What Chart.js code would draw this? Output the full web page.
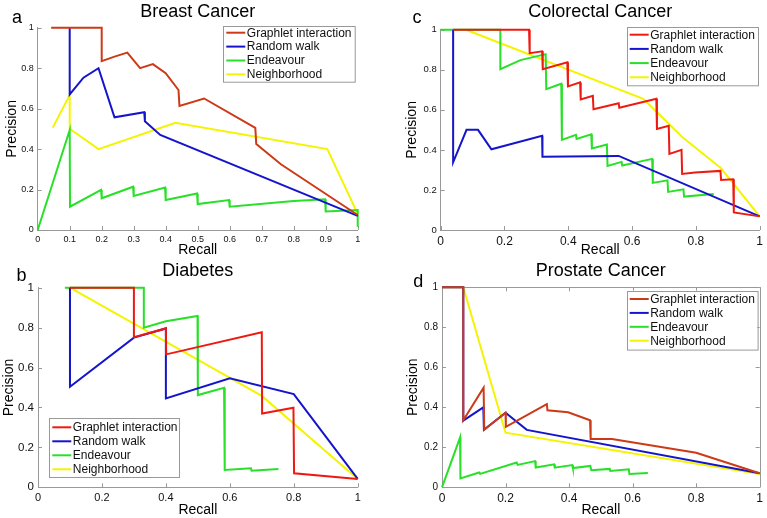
<!DOCTYPE html>
<html>
<head>
<meta charset="utf-8">
<script src="https://cdn.jsdelivr.net/npm/chart.js@4.4.0/dist/chart.umd.min.js"></script>
<style>
  body { margin: 0; background: #fff; }
  #wrap { position: relative; width: 767px; height: 518px; overflow: hidden; }
  canvas { position: absolute; }
</style>
</head>
<body>
<div id="wrap">
  <canvas id="chartA" width="385" height="259" style="left:0px;top:0px"></canvas>
  <canvas id="chartB" width="385" height="259" style="left:0px;top:259px"></canvas>
  <canvas id="chartC" width="382" height="259" style="left:385px;top:0px"></canvas>
  <canvas id="chartD" width="382" height="259" style="left:385px;top:259px"></canvas>
</div>
<script>
// ---------------- data (recall, precision) ----------------
const seriesNames = ['Graphlet interaction', 'Random walk', 'Endeavour', 'Neighborhood']
const yTicks = [0, 0.2, 0.4, 0.6, 0.8, 1]
const xTicksFine = [0, 0.1, 0.2, 0.3, 0.4, 0.5, 0.6, 0.7, 0.8, 0.9, 1]
const xTicksCoarse = [0, 0.2, 0.4, 0.6, 0.8, 1]

// a - Breast Cancer
const breastGraphlet = [[0.042,1],[0.2,1],[0.2,0.835],[0.24,0.857],[0.28,0.877],[0.32,0.80],[0.36,0.82],[0.40,0.775],[0.44,0.692],[0.443,0.613],[0.52,0.65],[0.68,0.505],[0.683,0.425],[0.76,0.325],[1.0,0.074]]
const breastRandom = [[0.1,1],[0.1,0.67],[0.143,0.753],[0.19,0.80],[0.24,0.557],[0.333,0.582],[0.335,0.537],[0.383,0.47],[1.0,0.07]]
const breastEndeavour = [[0,0],[0.1,0.494],[0.101,0.115],[0.198,0.198],[0.2,0.157],[0.298,0.214],[0.3,0.168],[0.398,0.21],[0.4,0.148],[0.498,0.18],[0.5,0.128],[0.598,0.148],[0.6,0.115],[0.8,0.143],[0.898,0.152],[0.9,0.092],[1.0,0.099],[1.0,0.016]]
const breastNeighbor = [[0.047,0.506],[0.1,0.667],[0.1,0.50],[0.19,0.40],[0.43,0.53],[0.905,0.40],[1.0,0.08]]

// b - Diabetes
const diabGraphlet = [[0.1,1],[0.3,1],[0.3,0.752],[0.4,0.796],[0.401,0.666],[0.7,0.777],[0.701,0.37],[0.799,0.399],[0.801,0.07],[1.0,0.042]]
const diabRandom = [[0.1,1],[0.1,0.504],[0.3,0.75],[0.4,0.796],[0.4,0.445],[0.6,0.546],[0.8,0.467],[1.0,0.042]]
const diabEndeavour = [[0.084,1],[0.331,1],[0.331,0.80],[0.4,0.832],[0.499,0.858],[0.5,0.462],[0.582,0.499],[0.584,0.087],[0.666,0.095],[0.668,0.083],[0.752,0.092]]
const diabNeighbor = [[0.1,1],[0.7,0.458],[1.0,0.042]]

// c - Colorectal Cancer
const coloGraphlet = [[0.039,1],[0.277,1],[0.279,0.883],[0.318,0.892],[0.32,0.803],[0.397,0.837],[0.399,0.717],[0.437,0.737],[0.439,0.652],[0.477,0.67],[0.479,0.603],[0.558,0.633],[0.56,0.61],[0.676,0.655],[0.678,0.505],[0.715,0.52],[0.717,0.38],[0.755,0.40],[0.757,0.28],[0.797,0.287],[0.877,0.295],[0.879,0.25],[0.917,0.253],[0.919,0.088],[1.0,0.068]]
const coloRandom = [[0.039,1],[0.039,0.338],[0.081,0.50],[0.117,0.50],[0.159,0.403],[0.318,0.47],[0.319,0.366],[0.558,0.37],[1.0,0.068]]
const coloEndeavour = [[0,1],[0.187,1],[0.187,0.803],[0.25,0.848],[0.329,0.878],[0.331,0.703],[0.378,0.73],[0.38,0.45],[0.424,0.475],[0.426,0.455],[0.472,0.478],[0.474,0.407],[0.521,0.427],[0.523,0.32],[0.567,0.34],[0.569,0.322],[0.663,0.355],[0.665,0.235],[0.711,0.248],[0.713,0.19],[0.761,0.203],[0.763,0.167],[0.856,0.18]]
const coloNeighbor = [[0.079,1],[0.635,0.655],[0.68,0.585],[0.76,0.46],[0.879,0.308],[1.0,0.068]]

// d - Prostate Cancer
const prostGraphlet = [[0,1],[0.067,1],[0.067,0.335],[0.131,0.498],[0.133,0.288],[0.2,0.373],[0.201,0.302],[0.33,0.416],[0.332,0.385],[0.397,0.375],[0.466,0.335],[0.468,0.241],[0.535,0.241],[0.8,0.173],[1.0,0.07]]
const prostRandom = [[0,1],[0.067,1],[0.067,0.333],[0.13,0.4],[0.132,0.288],[0.2,0.373],[0.267,0.287],[1.0,0.07]]
const prostEndeavour = [[0,0],[0.057,0.25],[0.058,0.044],[0.117,0.074],[0.12,0.067],[0.235,0.124],[0.238,0.112],[0.293,0.131],[0.295,0.099],[0.353,0.115],[0.355,0.098],[0.41,0.111],[0.412,0.096],[0.467,0.107],[0.47,0.085],[0.528,0.092],[0.53,0.082],[0.588,0.09],[0.59,0.067],[0.648,0.071]]
const prostNeighbor = [[0,1],[0.067,1],[0.2,0.273],[1.0,0.067]]

// ---------------- styling ----------------
const FONT = '"Liberation Sans", Arial, Helvetica, sans-serif'
const darkRed = '#cc3a17'
const brightRed = '#ee1a12'
const blue = '#1414cc'
const green = '#28e028'
const yellow = '#f4f400'
const axisGrey = '#999999'

//------------------------ decorations plugin ------------------------
const decor = {
    id: 'decor',
    beforeDatasetsDraw(chart, args, o) {
        const ctx = chart.ctx
        const a = chart.chartArea
        const xs = chart.scales.x, ys = chart.scales.y
        ctx.save()
        ctx.strokeStyle = axisGrey
        ctx.lineWidth = 1
        ctx.beginPath()
        o.xTicks.forEach(v => {
            const px = Math.round(xs.getPixelForValue(v)) + 0.5
            ctx.moveTo(px, a.bottom); ctx.lineTo(px, a.bottom - 4)
            if (o.box) { ctx.moveTo(px, a.top); ctx.lineTo(px, a.top + 4) }
        })
        yTicks.forEach(v => {
            const py = Math.round(ys.getPixelForValue(v)) + 0.5
            ctx.moveTo(a.left, py); ctx.lineTo(a.left + 4, py)
            if (o.box) { ctx.moveTo(a.right, py); ctx.lineTo(a.right - 4, py) }
        })
        if (o.box) {
            ctx.moveTo(a.left, Math.round(a.top) + 0.5); ctx.lineTo(a.right, Math.round(a.top) + 0.5)
            ctx.moveTo(Math.round(a.right) + 0.5, a.top); ctx.lineTo(Math.round(a.right) + 0.5, a.bottom)
        }
        ctx.stroke()
        ctx.restore()
    },
    afterDraw(chart, args, o) {
        const ctx = chart.ctx
        const a = chart.chartArea
        ctx.save()
        ctx.fillStyle = '#000'
        // title
        ctx.font = '18px ' + FONT
        ctx.textAlign = 'center'
        ctx.textBaseline = 'alphabetic'
        ctx.fillText(o.title, (a.left + a.right) / 2, o.titleY)
        // panel letter
        ctx.textAlign = 'left'
        ctx.fillText(o.letter, o.letterX, o.letterY)
        // axis titles
        ctx.font = '14px ' + FONT
        ctx.textAlign = 'center'
        ctx.fillText('Recall', (a.left + a.right) / 2, o.recallY)
        ctx.save()
        ctx.translate(o.precX, (a.top + a.bottom) / 2)
        ctx.rotate(-Math.PI / 2)
        ctx.textBaseline = 'middle'
        ctx.fillText('Precision', 0, 0)
        ctx.restore()
        // legend
        const L = o.legend
        ctx.fillStyle = '#fff'
        ctx.fillRect(L.x, L.y, L.w, L.h)
        ctx.strokeStyle = axisGrey
        ctx.lineWidth = 1
        ctx.strokeRect(Math.round(L.x) + 0.5, Math.round(L.y) + 0.5, L.w, L.h)
        ctx.font = '12px ' + FONT
        ctx.textAlign = 'left'
        ctx.textBaseline = 'middle'
        chart.data.datasets.forEach((ds, i) => {
            const ry = L.y + L.first + i * L.step
            ctx.strokeStyle = ds.borderColor
            ctx.lineWidth = 2
            ctx.beginPath()
            ctx.moveTo(L.x + 3, ry); ctx.lineTo(L.x + 22, ry)
            ctx.stroke()
            ctx.fillStyle = '#111'
            ctx.fillText(ds.label, L.x + 23.5, ry + 0.5)
        })
        ctx.restore()
    }
}

const makeSet = (name, pts, color) => ({
    label: name,
    data: pts.map(p => ({ x: p[0], y: p[1] })),
    borderColor: color,
    backgroundColor: color,
    borderWidth: 2,
    pointRadius: 0,
    showLine: true,
    tension: 0,
    fill: false,
    clip: false
})

const fmt = v => String(+Number(v).toFixed(1))

const makeChart = (id, p) => {
    const canvas = document.getElementById(id)
    return new Chart(canvas, {
        type: 'scatter',
        data: {
            datasets: [
                makeSet(seriesNames[0], p.series[0], p.red),
                makeSet(seriesNames[1], p.series[1], blue),
                makeSet(seriesNames[2], p.series[2], green),
                makeSet(seriesNames[3], p.series[3], yellow)
            ]
        },
        options: {
            responsive: false,
            animation: false,
            devicePixelRatio: 1,
            layout: { padding: { top: p.top, right: p.right, left: 0, bottom: 0 } },
            plugins: {
                legend: { display: false },
                tooltip: { enabled: false },
                decor: p.decor
            },
            scales: {
                x: {
                    type: 'linear', min: 0, max: 1,
                    afterBuildTicks: s => { s.ticks = p.xTicks.map(v => ({ value: v })) },
                    afterFit: s => { s.height = p.xH },
                    grid: { display: false, drawTicks: false },
                    border: { display: true, color: axisGrey, width: 1 },
                    ticks: { callback: fmt, padding: 4, color: '#111', maxRotation: 0, autoSkip: false,
                             font: { family: FONT, size: p.xFont } }
                },
                y: {
                    type: 'linear', min: 0, max: 1,
                    afterBuildTicks: s => { s.ticks = yTicks.map(v => ({ value: v })) },
                    afterFit: s => { s.width = p.yW },
                    grid: { display: false, drawTicks: false },
                    border: { display: true, color: axisGrey, width: 1 },
                    ticks: { callback: fmt, padding: 4, color: '#111', autoSkip: false,
                             font: { family: FONT, size: p.yFont } }
                }
            }
        },
        plugins: [decor]
    })
}

makeChart('chartA', {
    series: [breastGraphlet, breastRandom, breastEndeavour, breastNeighbor],
    red: darkRed, top: 27.7, right: 27.3, yW: 37.7, xH: 29, xFont: 9, yFont: 9,
    xTicks: xTicksFine,
    decor: { title: 'Breast Cancer', titleY: 17, letter: 'a', letterX: 12, letterY: 22.5,
             recallY: 254, precX: 12, xTicks: xTicksFine, box: false,
             legend: { x: 223.3, y: 26, w: 131.7, h: 55.7, first: 6.7, step: 13.9 } }
})

makeChart('chartB', {
    series: [diabGraphlet, diabRandom, diabEndeavour, diabNeighbor],
    red: brightRed, top: 28.7, right: 27.3, yW: 38, xH: 30.7, xFont: 11, yFont: 11.5,
    xTicks: xTicksCoarse,
    decor: { title: 'Diabetes', titleY: 16.7, letter: 'b', letterX: 16.5, letterY: 21.7,
             recallY: 255, precX: 9.5, xTicks: xTicksCoarse, box: false,
             legend: { x: 49.3, y: 158.7, w: 130, h: 59, first: 9.6, step: 14 } }
})

makeChart('chartC', {
    series: [coloGraphlet, coloRandom, coloEndeavour, coloNeighbor],
    red: brightRed, top: 29.7, right: 6, yW: 55.7, xH: 29, xFont: 12, yFont: 9.5,
    xTicks: xTicksCoarse,
    decor: { title: 'Colorectal Cancer', titleY: 17.3, letter: 'c', letterX: 27.5, letterY: 22.7,
             recallY: 254, precX: 26.7, xTicks: xTicksCoarse, box: false,
             legend: { x: 241.7, y: 26.7, w: 131, h: 58.3, first: 8, step: 14.2 } }
})

makeChart('chartD', {
    series: [prostGraphlet, prostRandom, prostEndeavour, prostNeighbor],
    red: darkRed, top: 28.3, right: 4.7, yW: 57, xH: 30.7, xFont: 12, yFont: 10,
    xTicks: xTicksCoarse,
    decor: { title: 'Prostate Cancer', titleY: 17, letter: 'd', letterX: 28.3, letterY: 28.3,
             recallY: 255, precX: 28, xTicks: xTicksCoarse, box: true,
             legend: { x: 241.7, y: 31.7, w: 130.6, h: 58.6, first: 8.3, step: 13.9 } }
})
</script>
</body>
</html>
